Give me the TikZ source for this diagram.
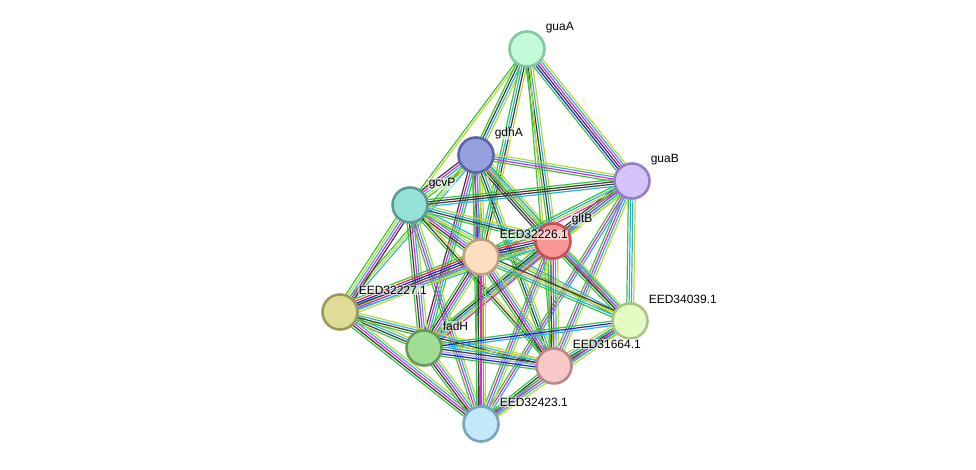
\documentclass[tikz,border=0pt]{standalone}
\usepackage{fontspec}
\setmainfont{Liberation Sans}
\usetikzlibrary{calc}
\pgfdeclarelayer{bg}
\pgfsetlayers{bg,main}
\definecolor{cG}{RGB}{60,195,60}
\definecolor{cR}{RGB}{240,40,40}
\definecolor{cB}{RGB}{30,30,240}
\definecolor{cK}{RGB}{60,60,60}
\definecolor{cM}{RGB}{220,40,220}
\definecolor{cC}{RGB}{40,180,225}
\definecolor{cY}{RGB}{195,212,45}
\definecolor{cL}{RGB}{160,160,255}
\tikzset{
  prot/.style={circle,minimum size=35pt,inner sep=0pt,line width=2.6pt},
  G/.style={cG,line width=1.2pt},
  R/.style={cR,line width=1.2pt},
  B/.style={cB,line width=1.2pt},
  K/.style={cK,line width=1.2pt},
  M/.style={cM,line width=1.2pt},
  C/.style={cC,line width=1.2pt},
  Y/.style={cY,line width=1.2pt},
  L/.style={cL,line width=1.2pt},
  lab/.style={anchor=base west,inner sep=0.6pt,fill=white,fill opacity=0.55,text opacity=1,
    font=\fontsize{12pt}{14pt}\selectfont},
}
\newcommand\bundle[3]{%
  \def\nn{0}%
  \foreach \c in {#3}{\pgfmathtruncatemacro\tmp{\nn+1}\global\let\nn\tmp}%
  \foreach \c [count=\i] in {#3}{%
    \pgfmathsetmacro\off{(\i-(\nn+1)/2)*2.3}%
    \draw[\c] ($(#1)!\off pt!90:(#2)$) -- ($(#2)!\off pt!-90:(#1)$);
  }}
\newcommand\plabel[3]{%
  \node[lab] (#2) at ($(#1)+(18,-18)$) {#3};}
\begin{document}
\begin{tikzpicture}[x=1pt,y=-1pt]
\useasboundingbox (0,0) rectangle (976,470);
\node[prot,fill={rgb,255:red,195;green,250;blue,215},draw={rgb,255:red,130;green,200;blue,160}] (guaA) at (527,49) {};
\node[prot,fill={rgb,255:red,150;green,160;blue,220},draw={rgb,255:red,90;green,100;blue,170}] (gdhA) at (476,155) {};
\node[prot,fill={rgb,255:red,212;green,195;blue,252},draw={rgb,255:red,150;green,125;blue,200}] (guaB) at (632,181) {};
\node[prot,fill={rgb,255:red,150;green,225;blue,215},draw={rgb,255:red,90;green,155;blue,145}] (gcvP) at (410,205) {};
\node[prot,fill={rgb,255:red,250;green,150;blue,150},draw={rgb,255:red,200;green,80;blue,80}] (gltB) at (553,241) {};
\node[prot,fill={rgb,255:red,253;green,222;blue,190},draw={rgb,255:red,190;green,160;blue,130}] (e26) at (481,257) {};
\node[prot,fill={rgb,255:red,222;green,220;blue,150},draw={rgb,255:red,155;green,155;blue,85}] (e27) at (340,312) {};
\node[prot,fill={rgb,255:red,228;green,252;blue,195},draw={rgb,255:red,170;green,195;blue,135}] (e39) at (630,321) {};
\node[prot,fill={rgb,255:red,160;green,222;blue,150},draw={rgb,255:red,100;green,155;blue,90}] (fadH) at (424,348) {};
\node[prot,fill={rgb,255:red,248;green,200;blue,200},draw={rgb,255:red,185;green,135;blue,135}] (e64) at (554,366) {};
\node[prot,fill={rgb,255:red,195;green,232;blue,252},draw={rgb,255:red,120;green,165;blue,190}] (e23) at (481,424) {};
\begin{pgfonlayer}{bg}
\bundle{guaA}{gcvP}{G,Y}
\bundle{guaA}{gdhA}{G,K,C,Y}
\bundle{guaA}{e26}{G,C,K,Y}
\bundle{guaA}{gltB}{G,K,C,Y}
\bundle{guaA}{e64}{G,Y}
\bundle{guaA}{guaB}{G,B,K,M,C,Y}
\bundle{gdhA}{gcvP}{K,M,C,Y,G}
\bundle{gdhA}{guaB}{G,M,C,Y}
\bundle{gdhA}{gltB}{K,K,M,C,G,Y}
\bundle{gdhA}{e26}{G,K,M,C,Y}
\bundle{gdhA}{e39}{G,Y,C}
\bundle{gdhA}{e64}{G,K,C,Y}
\bundle{gdhA}{fadH}{K,M,C,G}
\bundle{gdhA}{e23}{G,M,C,Y}
\bundle{gdhA}{e27}{G,Y,C}
\bundle{guaB}{gcvP}{G,K,K,C}
\bundle{guaB}{gltB}{K,K,C,G,Y}
\bundle{guaB}{e26}{G,C,Y,M}
\bundle{guaB}{e39}{G,C,C,Y}
\bundle{guaB}{e64}{G,M,C,Y}
\bundle{guaB}{fadH}{G,M,C,Y}
\bundle{guaB}{e23}{G,M,C}
\bundle{gcvP}{gltB}{G,K,C,Y}
\bundle{gcvP}{e26}{G,K,M,C,Y}
\bundle{gcvP}{e27}{G,Y,C,M,K}
\bundle{gcvP}{fadH}{G,K,M,C,Y}
\bundle{gcvP}{e23}{G,M,C,Y}
\bundle{gcvP}{e64}{G,K,Y}
\bundle{gcvP}{e39}{G,Y,C}
\bundle{gltB}{e26}{G,R,B,K,M,C,Y}
\bundle{gltB}{e39}{G,K,M,C,Y}
\bundle{gltB}{e64}{G,K,M,C,Y}
\bundle{gltB}{fadH}{G,K,C,Y,M}
\bundle{gltB}{e23}{G,M,C,Y}
\bundle{gltB}{e27}{G,Y,C}
\bundle{e26}{e27}{G,R,B,K,M,C,Y}
\bundle{e26}{fadH}{G,K,M,C,Y}
\bundle{e26}{e23}{G,K,M,C,Y}
\bundle{e26}{e64}{G,K,M,C,Y}
\bundle{e26}{e39}{G,C,Y,K}
\bundle{e27}{fadH}{G,K,C,Y}
\bundle{e27}{e23}{G,K,M,C,Y}
\bundle{e27}{e64}{G,K,C,Y}
\bundle{fadH}{e64}{G,B,L,K,C,Y}
\bundle{fadH}{e39}{C,B,G}
\bundle{fadH}{e23}{G,K,M,C,Y}
\bundle{e64}{e39}{G,K,K,C,Y}
\bundle{e64}{e23}{G,K,C,Y}
\bundle{e39}{e23}{G,M,C,Y}
\end{pgfonlayer}
\plabel{guaA}{lguaA}{guaA}
\plabel{gdhA}{lgdhA}{gdhA}
\plabel{guaB}{lguaB}{guaB}
\plabel{gcvP}{lgcvP}{gcvP}
\plabel{gltB}{lgltB}{gltB}
\plabel{e26}{le26}{EED32226.1}
\plabel{e27}{le27}{EED32227.1}
\plabel{e39}{le39}{EED34039.1}
\plabel{fadH}{lfadH}{fadH}
\plabel{e64}{le64}{EED31664.1}
\plabel{e23}{le23}{EED32423.1}
\end{tikzpicture}
\end{document}
